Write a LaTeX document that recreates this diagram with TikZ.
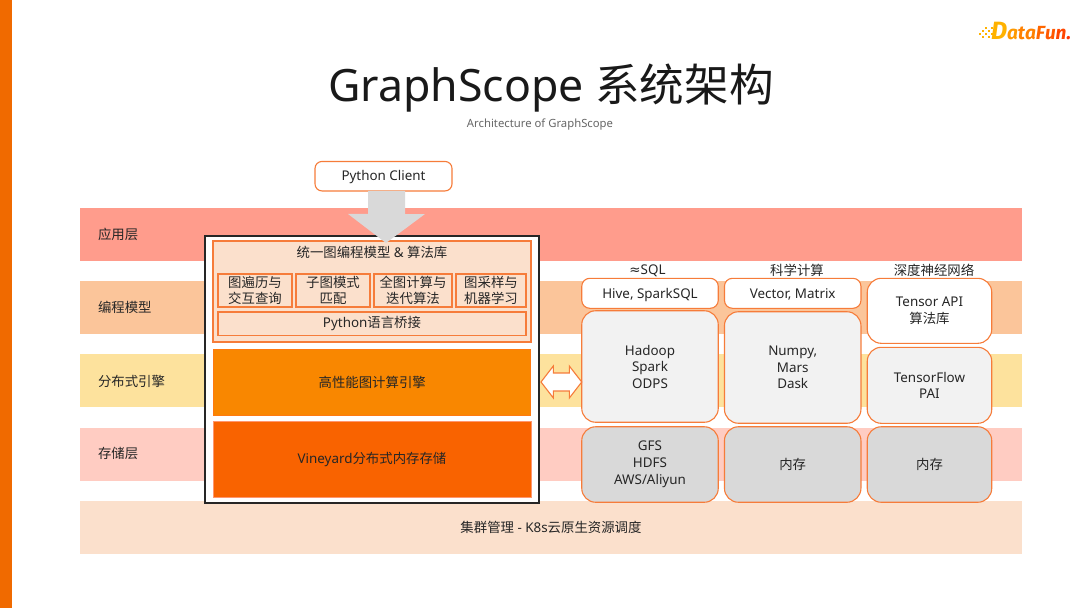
\documentclass[tikz,border=0pt]{standalone}
\usepackage{fontspec}
\setmainfont{Noto Sans}
\newfontfamily\cjk{Noto Sans CJK SC}
\newfontfamily\logofont{Fira Sans}
\newfontfamily\symfont{DejaVu Sans}
\definecolor{edgeorange}{HTML}{F67C3A}
\definecolor{sidebar}{HTML}{F06A00}
\definecolor{blockgray}{HTML}{D9D9D9}
\definecolor{softgray}{HTML}{F2F2F2}
\definecolor{textdark}{HTML}{262626}
\definecolor{panelfill}{HTML}{FBE0CC}
\begin{document}
\begin{tikzpicture}[x=1pt, y=-1pt, font=\fontsize{13.4}{16.5}\selectfont, text=textdark,
    every node/.style = {outer sep=0pt, inner sep=0pt, align=center},
    band/.style = {minimum width=942pt, minimum height=53pt},
    layername/.style = {anchor=west, text depth=0pt},
    panel/.style = {draw=edgeorange, line width=1.3pt, fill=panelfill},
    card/.style = {draw=edgeorange, line width=1.1pt, rounded corners=#1},
    card/.default = 14pt,
    lowtext/.style = {text height=13pt, text depth=3.5pt}]
    \useasboundingbox (0,0) rectangle (1080,608);
    \fill[sidebar] (0,0) rectangle (12,608);
    % title
    \node[text=black!90] (title) at (551,88.5) {\fontsize{44.6}{50}\selectfont GraphScope {\cjk 系统架构}};
    \node[text=black!60] (subtitle) at (540,124.5) {\fontsize{11.3}{12}\selectfont Architecture of GraphScope};
    % logo
    \foreach \dotx/\doty in {979/33, 982/36, 982/30, 985/33, 985/27, 988/36, 988/30, 991/33, 991/27}
        \fill[orange!60!yellow] (\dotx,\doty) rectangle +(2.2,2.2);
    \node[anchor=base west] (logo) at (991,39) {\logofont\bfseries\itshape\fontsize{19}{22}\selectfont
        \textcolor{orange!60!yellow}{\fontsize{25}{22}\selectfont D}\textcolor{orange!80!yellow}{a}\textcolor{orange}{t}\textcolor{orange}{a}\textcolor{orange!80!red}{F}\textcolor{orange!70!red}{u}\textcolor{orange!55!red}{n}\textcolor{orange!40!red}{.}};
    % layers
    \node[band, fill={rgb,255:red,255;green,156;blue,140}] (app) at (551,234.5) {};
    \node[band, fill={rgb,255:red,251;green,197;blue,154}] (prog) at (551,307.5) {};
    \node[band, fill={rgb,255:red,253;green,226;blue,157}] (dist) at (551,380.5) {};
    \node[band, fill={rgb,255:red,255;green,204;blue,194}] (store) at (551,454.5) {};
    \node[band, fill=panelfill] (cluster) at (551,527.5) {{\cjk 集群管理} - K8s{\cjk 云原生资源调度}};
    \node[layername] (applabel) at (98,234) {\cjk 应用层};
    \node[layername] (proglabel) at (98,307) {\cjk 编程模型};
    \node[layername] (distlabel) at (98,381) {\cjk 分布式引擎};
    \node[layername] (storelabel) at (98,453) {\cjk 存储层};
    % GraphScope stack
    \node[draw=black!85, line width=1.5pt, fill=white, minimum width=334pt, minimum height=267pt] (stack) at (372,369.5) {};
    \node[panel, minimum width=318pt, minimum height=101pt] (unified) at (372,291.5) {};
    \node (unifiedname) at (372,252) {{\cjk 统一图编程模型} \& {\cjk 算法库}};
    \node[panel, minimum width=74pt, minimum height=33pt] (traverse) at (255,290.5) {\cjk 图遍历与\\\cjk 交互查询};
    \node[panel, minimum width=74pt, minimum height=33pt] (match) at (333,290.5) {\cjk 子图模式\\\cjk 匹配};
    \node[panel, minimum width=78pt, minimum height=33pt] (whole) at (413,290.5) {\cjk 全图计算与\\\cjk 迭代算法};
    \node[panel, minimum width=70pt, minimum height=33pt] (sample) at (491,290.5) {\cjk 图采样与\\\cjk 机器学习};
    \node[panel, minimum width=308pt, minimum height=23.5pt] (bridge) at (372,323.7) {Python{\cjk 语言桥接}};
    \node[draw={rgb,255:red,255;green,122;blue,16}, fill={rgb,255:red,249;green,135;blue,0}, line width=0.8pt, minimum width=317pt, minimum height=66pt] (engine) at (372.2,382) {\cjk 高性能图计算引擎};
    \node[draw={rgb,255:red,255;green,150;blue,110}, fill={rgb,255:red,249;green,99;blue,0}, line width=0.8pt, minimum width=318pt, minimum height=76pt] (vineyard) at (372,459) {Vineyard{\cjk 分布式内存存储}};
    % client
    \node[card=7pt, lowtext, fill=white, minimum width=137pt, minimum height=29.5pt] (client) at (383.5,176.2) {Python Client};
    \coordinate (tip) at (386,243);
    \fill[blockgray] ([xshift=-15.5pt]client.south) -- ++(0,23) -- ++(-20,0) -- (tip) -- ++(39,-29) -- ++(-20,0) -- ([xshift=21.5pt]client.south) -- cycle;
    % right columns
    \node (sqlhead) at (647.5,270.5) {{\symfont ≈}SQL};
    \node (scihead) at (797,270.5) {\cjk 科学计算};
    \node (dnnhead) at (934,270.5) {\cjk 深度神经网络};
    \node[card=8pt, lowtext, fill=white, minimum width=136.5pt, minimum height=30pt] (hive) at (650,293.3) {Hive, SparkSQL};
    \node[card=8pt, lowtext, fill=white, minimum width=136.5pt, minimum height=30pt] (vector) at (792.7,293.3) {Vector, Matrix};
    \node[card, fill=white, minimum width=124.5pt, minimum height=65pt] (tensor) at (929.5,310.8) {Tensor API\\\cjk 算法库};
    \node[card, fill=softgray, minimum width=136.5pt, minimum height=111.5pt] (hadoop) at (650,366.5) {Hadoop\\Spark\\ODPS};
    \node[card, fill=softgray, minimum width=136.5pt, minimum height=111.5pt] (numpy) at (792.7,367.5) {Numpy,\\Mars\\Dask};
    \node[card, fill=softgray, minimum width=124.5pt, minimum height=76pt] (flow) at (929.5,385.3) {TensorFlow\\PAI};
    \node[card, fill=blockgray, minimum width=136.5pt, minimum height=75.5pt] (gfs) at (650,464.5) {GFS\\[0.5pt]HDFS\\[0.5pt]AWS/Aliyun};
    \node[card, fill=blockgray, minimum width=136.5pt, minimum height=75.5pt] (memsci) at (792.7,464.5) {\cjk 内存};
    \node[card, fill=blockgray, minimum width=124.5pt, minimum height=75.5pt] (memdnn) at (929.5,464.5) {\cjk 内存};
    % exchange arrow
    \coordinate (left) at (541,382);
    \draw[edgeorange, line width=1.1pt, fill=white] (left) -- ++(12.3,-16) -- ++(0,7) -- ++(16,0) -- ++(0,-7) -- (hadoop.west |- left) -- ++(-12.4,16) -- ++(0,-7) -- ++(-16,0) -- ++(0,7) -- cycle;
\end{tikzpicture}
\end{document}
